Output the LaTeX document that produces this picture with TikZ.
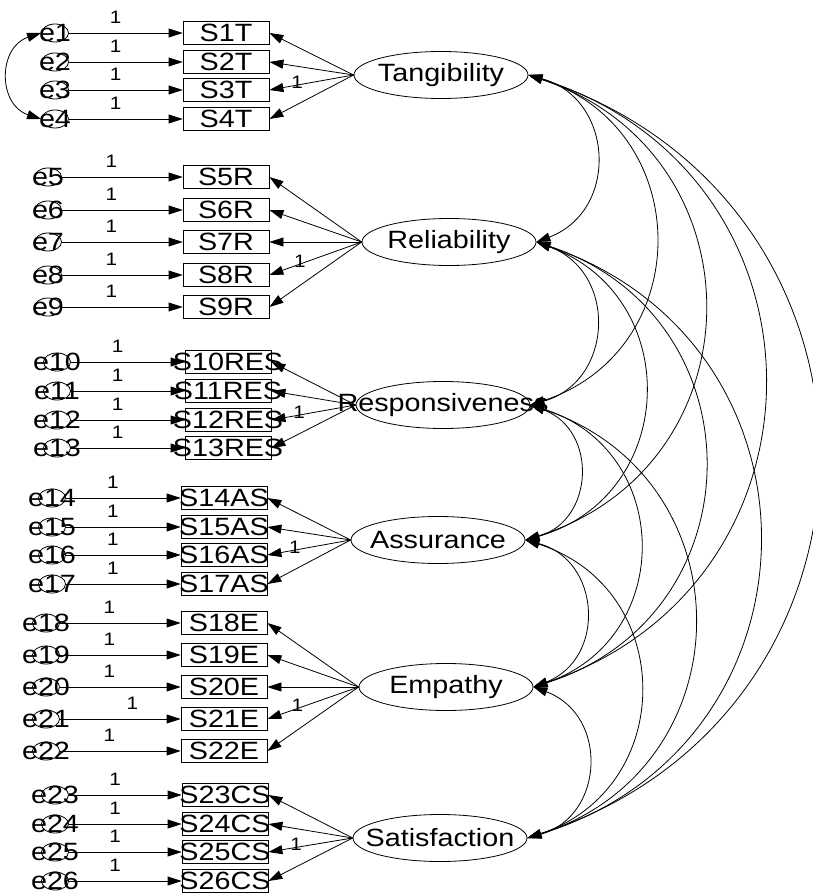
\documentclass[tikz,border=0pt]{standalone}
\usepackage{fontspec}
\setmainfont[FakeStretch=1.15]{Liberation Sans}
\usetikzlibrary{shapes}
\usetikzlibrary{arrows.meta}

\begin{document}
\begin{tikzpicture}[x=1pt,y=-1pt,line width=0.8pt,
  font=\fontsize{25}{28}\selectfont,
  >={Triangle[length=14pt,width=9pt]},
  err/.style={draw,ellipse,inner sep=0pt,minimum width=27pt,minimum height=18pt},
  obs/.style={draw,rectangle,inner sep=0pt,minimum width=86pt,minimum height=23pt},
  lat/.style={draw,ellipse,inner sep=0pt,minimum width=174pt,minimum height=47pt},
  one/.style={font=\fontsize{18}{20}\selectfont,inner sep=1pt},
  covar/.style={<->,looseness=1.36}]
\useasboundingbox (0,0) rectangle (813,896);

\node[lat,label=center:Tangibility] (Tang) at (441,75){};
\node[lat,label=center:Reliability] (Rel) at (449,242){};
\node[lat,label=center:Responsiveness] (Resp) at (443,405){};
\node[lat,label=center:Assurance] (Assur) at (438,540){};
\node[lat,label=center:Empathy] (Emp) at (446,687){};
\node[lat,label=center:Satisfaction] (Sat) at (440,838){};

\node[err,label=center:e1] (e1) at (55,33){};
\node[err,label=center:e2] (e2) at (55,62){};
\node[err,label=center:e3] (e3) at (55,90){};
\node[err,label=center:e4] (e4) at (55,119){};
\node[obs,label=center:S1T] (S1T) at (226,33){};
\node[obs,label=center:S2T] (S2T) at (226,62){};
\node[obs,label=center:S3T] (S3T) at (226,90){};
\node[obs,label=center:S4T] (S4T) at (226,119){};

\node[err,label=center:e5] (e5) at (48,177){};
\node[err,label=center:e6] (e6) at (48,210){};
\node[err,label=center:e7] (e7) at (48,242){};
\node[err,label=center:e8] (e8) at (48,275){};
\node[err,label=center:e9] (e9) at (48,307){};
\node[obs,label=center:S5R] (S5R) at (226,177){};
\node[obs,label=center:S6R] (S6R) at (226,210){};
\node[obs,label=center:S7R] (S7R) at (226,242){};
\node[obs,label=center:S8R] (S8R) at (226,275){};
\node[obs,label=center:S9R] (S9R) at (226,307){};

\node[err,label=center:e10] (e10) at (57,362){};
\node[err,label=center:e11] (e11) at (57,391){};
\node[err,label=center:e12] (e12) at (57,420){};
\node[err,label=center:e13] (e13) at (57,448){};
\node[obs,label=center:S10RES] (S10RES) at (228,362){};
\node[obs,label=center:S11RES] (S11RES) at (228,391){};
\node[obs,label=center:S12RES] (S12RES) at (228,420){};
\node[obs,label=center:S13RES] (S13RES) at (228,448){};

\node[err,label=center:e14] (e14) at (52,498){};
\node[err,label=center:e15] (e15) at (52,527){};
\node[err,label=center:e16] (e16) at (52,555){};
\node[err,label=center:e17] (e17) at (52,584){};
\node[obs,label=center:S14AS] (S14AS) at (224,498){};
\node[obs,label=center:S15AS] (S15AS) at (224,527){};
\node[obs,label=center:S16AS] (S16AS) at (224,555){};
\node[obs,label=center:S17AS] (S17AS) at (224,584){};

\node[err,label=center:e18] (e18) at (46,623){};
\node[err,label=center:e19] (e19) at (46,655){};
\node[err,label=center:e20] (e20) at (46,687){};
\node[err,label=center:e21] (e21) at (46,719){};
\node[err,label=center:e22] (e22) at (46,751){};
\node[obs,label=center:S18E] (S18E) at (224,623){};
\node[obs,label=center:S19E] (S19E) at (224,655){};
\node[obs,label=center:S20E] (S20E) at (224,687){};
\node[obs,label=center:S21E] (S21E) at (224,719){};
\node[obs,label=center:S22E] (S22E) at (224,751){};

\node[err,label=center:e23] (e23) at (55,795){};
\node[err,label=center:e24] (e24) at (55,824){};
\node[err,label=center:e25] (e25) at (55,852){};
\node[err,label=center:e26] (e26) at (55,881){};
\node[obs,label=center:S23CS] (S23CS) at (225,795){};
\node[obs,label=center:S24CS] (S24CS) at (225,824){};
\node[obs,label=center:S25CS] (S25CS) at (225,852){};
\node[obs,label=center:S26CS] (S26CS) at (225,881){};

\draw[->] (e1) -- (S1T) node[one,pos=.41,above=8pt]{1};
\draw[->] (e2) -- (S2T) node[one,pos=.41,above=8pt]{1};
\draw[->] (e3) -- (S3T) node[one,pos=.41,above=8pt]{1};
\draw[->] (e4) -- (S4T) node[one,pos=.41,above=8pt]{1};
\draw[->] (e5) -- (S5R) node[one,pos=.41,above=8pt]{1};
\draw[->] (e6) -- (S6R) node[one,pos=.41,above=8pt]{1};
\draw[->] (e7) -- (S7R) node[one,pos=.41,above=8pt]{1};
\draw[->] (e8) -- (S8R) node[one,pos=.41,above=8pt]{1};
\draw[->] (e9) -- (S9R) node[one,pos=.41,above=8pt]{1};
\draw[->] (e10) -- (S10RES) node[one,pos=.41,above=8pt]{1};
\draw[->] (e11) -- (S11RES) node[one,pos=.41,above=8pt]{1};
\draw[->] (e12) -- (S12RES) node[one,pos=.41,above=8pt]{1};
\draw[->] (e13) -- (S13RES) node[one,pos=.41,above=8pt]{1};
\draw[->] (e14) -- (S14AS) node[one,pos=.41,above=8pt]{1};
\draw[->] (e15) -- (S15AS) node[one,pos=.41,above=8pt]{1};
\draw[->] (e16) -- (S16AS) node[one,pos=.41,above=8pt]{1};
\draw[->] (e17) -- (S17AS) node[one,pos=.41,above=8pt]{1};
\draw[->] (e18) -- (S18E) node[one,pos=.41,above=8pt]{1};
\draw[->] (e19) -- (S19E) node[one,pos=.41,above=8pt]{1};
\draw[->] (e20) -- (S20E) node[one,pos=.41,above=8pt]{1};
\draw[->] (e21) -- (S21E) node[one,pos=.6,above=8pt]{1};
\draw[->] (e22) -- (S22E) node[one,pos=.41,above=8pt]{1};
\draw[->] (e23) -- (S23CS) node[one,pos=.41,above=8pt]{1};
\draw[->] (e24) -- (S24CS) node[one,pos=.41,above=8pt]{1};
\draw[->] (e25) -- (S25CS) node[one,pos=.41,above=8pt]{1};
\draw[->] (e26) -- (S26CS) node[one,pos=.41,above=8pt]{1};

\draw[->] (Tang.west) -- (S1T.east);
\draw[->] (Tang.west) -- (S2T.east);
\draw[->] (Tang.west) -- (S3T.east) node[one,pos=.67,yshift=3pt]{1};
\draw[->] (Tang.west) -- (S4T.east);
\draw[->] (Rel.west) -- (S5R.east);
\draw[->] (Rel.west) -- (S6R.east);
\draw[->] (Rel.west) -- (S7R.east);
\draw[->] (Rel.west) -- (S8R.east) node[one,pos=.67,yshift=3pt]{1};
\draw[->] (Rel.west) -- (S9R.east);
\draw[->] (Resp.west) -- (S10RES.east);
\draw[->] (Resp.west) -- (S11RES.east);
\draw[->] (Resp.west) -- (S12RES.east) node[one,pos=.67,yshift=3pt]{1};
\draw[->] (Resp.west) -- (S13RES.east);
\draw[->] (Assur.west) -- (S14AS.east);
\draw[->] (Assur.west) -- (S15AS.east);
\draw[->] (Assur.west) -- (S16AS.east) node[one,pos=.67,yshift=3pt]{1};
\draw[->] (Assur.west) -- (S17AS.east);
\draw[->] (Emp.west) -- (S18E.east);
\draw[->] (Emp.west) -- (S19E.east);
\draw[->] (Emp.west) -- (S20E.east);
\draw[->] (Emp.west) -- (S21E.east) node[one,pos=.67,yshift=3pt]{1};
\draw[->] (Emp.west) -- (S22E.east);
\draw[->] (Sat.west) -- (S23CS.east);
\draw[->] (Sat.west) -- (S24CS.east);
\draw[->] (Sat.west) -- (S25CS.east) node[one,pos=.67,yshift=3pt]{1};
\draw[->] (Sat.west) -- (S26CS.east);

\draw[covar] (e1.west) to[bend right=72] (e4.west);

\draw[covar] (Tang.east) to[bend left=72] (Rel.east);
\draw[covar] (Tang.east) to[bend left=72] (Resp.east);
\draw[covar] (Tang.east) to[bend left=72] (Assur.east);
\draw[covar] (Tang.east) to[bend left=72] (Emp.east);
\draw[covar] (Tang.east) to[bend left=72] (Sat.east);
\draw[covar] (Rel.east) to[bend left=72] (Resp.east);
\draw[covar] (Rel.east) to[bend left=72] (Assur.east);
\draw[covar] (Rel.east) to[bend left=72] (Emp.east);
\draw[covar] (Rel.east) to[bend left=72] (Sat.east);
\draw[covar] (Resp.east) to[bend left=72] (Assur.east);
\draw[covar] (Resp.east) to[bend left=72] (Emp.east);
\draw[covar] (Resp.east) to[bend left=72] (Sat.east);
\draw[covar] (Assur.east) to[bend left=72] (Emp.east);
\draw[covar] (Assur.east) to[bend left=72] (Sat.east);
\draw[covar] (Emp.east) to[bend left=72] (Sat.east);
\end{tikzpicture}
\end{document}
